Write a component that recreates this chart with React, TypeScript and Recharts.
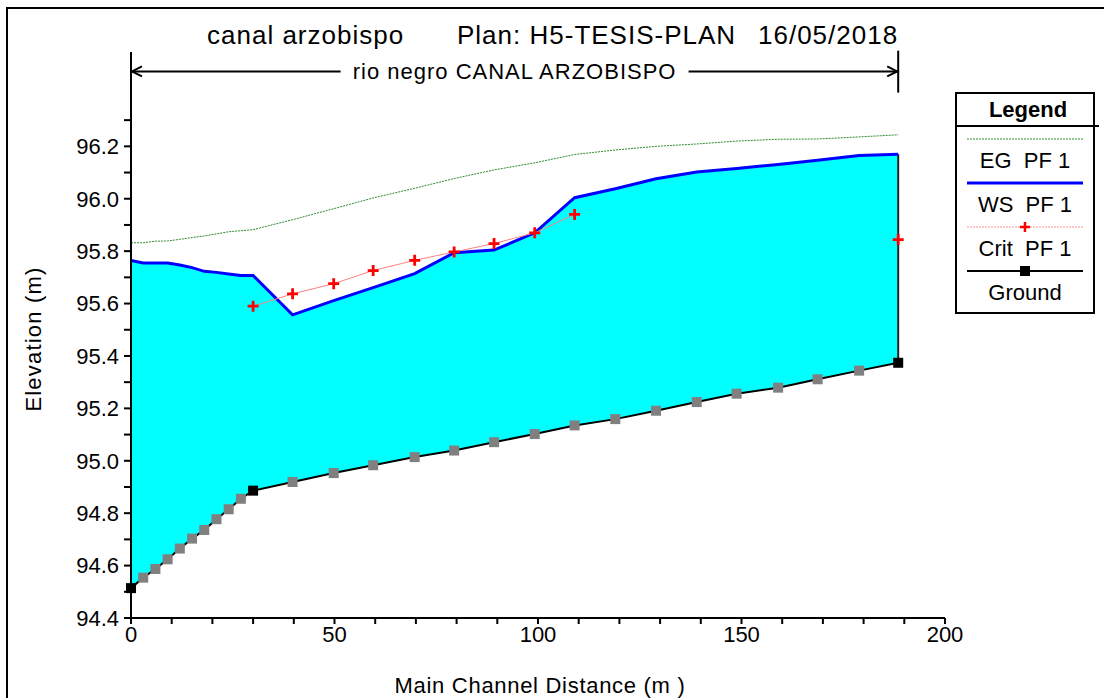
import React from 'react';
import { ComposedChart, Area, Line, XAxis, YAxis, ReferenceLine } from 'recharts';

// HEC-RAS style profile: canal arzobispo
const stations = [0, 3, 6, 9, 12, 15, 18, 21, 24, 27, 30, 39.7, 49.8, 59.5, 69.7, 79.4, 89.2, 99.2, 109, 119, 129, 139, 148.8, 159, 168.7, 178.9, 188.5];
const ground = [94.514, 94.554, 94.587, 94.624, 94.665, 94.703, 94.736, 94.777, 94.815, 94.855, 94.886, 94.919, 94.953, 94.983, 95.014, 95.039, 95.071, 95.102, 95.135, 95.159, 95.191, 95.224, 95.256, 95.279, 95.311, 95.344, 95.374];
const wsPF1 = [95.764, 95.755, 95.755, 95.755, 95.747, 95.737, 95.723, 95.719, 95.713, 95.707, 95.707, 95.557, 95.611, 95.661, 95.714, 95.794, 95.804, 95.870, 96.004, 96.038, 96.076, 96.102, 96.115, 96.131, 96.147, 96.165, 96.170];
const egPF1 = [95.832, 95.832, 95.838, 95.839, 95.845, 95.852, 95.858, 95.866, 95.874, 95.878, 95.882, 95.920, 95.962, 96.003, 96.040, 96.077, 96.110, 96.137, 96.169, 96.186, 96.200, 96.209, 96.220, 96.227, 96.228, 96.236, 96.244];
const critPF1 = [null, null, null, null, null, null, null, null, null, null, 95.590, 95.637, 95.676, 95.726, 95.765, 95.797, 95.829, 95.870, 95.940, null, null, null, null, null, null, null, 95.844];
// cross sections that are not interpolated (drawn with black markers)
const realSections = [0, 30, 188.5];

const xTicks = [0, 10, 20, 30, 40, 50, 60, 70, 80, 90, 100, 110, 120, 130, 140, 150, 160, 170, 180, 190, 200];
const yTicks = [94.4, 94.5, 94.6, 94.7, 94.8, 94.9, 95.0, 95.1, 95.2, 95.3, 95.4, 95.5, 95.6, 95.7, 95.8, 95.9, 96.0, 96.1, 96.2, 96.3];

const reachName = 'rio negro CANAL ARZOBISPO';
const reachStart = 0;
const reachEnd = 188.5;
const reachY = 96.486;

const FONT = '"Liberation Sans", Arial, sans-serif';

const rows = stations.map((x, i) => ({
  x,
  ground: ground[i],
  ws: wsPF1[i],
  eg: egPF1[i],
  crit: critPF1[i],
}));

const CritDot = (p: any) => {
  const { cx, cy, index } = p;
  if (cx == null || cy == null || p.value == null) return <g key={`c${index}`} />;
  return (
    <path key={`c${index}`} d={`M${cx - 5.5},${cy}H${cx + 5.5}M${cx},${cy - 5.5}V${cy + 5.5}`} stroke="#ff0000" strokeWidth={2.8} />
  );
};

const GroundDot = (p: any) => {
  const { cx, cy, index } = p;
  const real = realSections.includes(stations[index]);
  return <rect key={`g${index}`} x={cx - 5} y={cy - 5} width={10} height={10} fill={real ? '#000' : '#808080'} />;
};

const ReachShape = (p: any) => {
  const { x1, y1, x2 } = p;
  const mid = (x1 + x2) / 2;
  const gap = 174;
  return (
    <g>
      <line x1={x1} y1={y1} x2={mid - gap} y2={y1} stroke="#000" strokeWidth={2} />
      <line x1={mid + gap} y1={y1} x2={x2} y2={y1} stroke="#000" strokeWidth={2} />
      <path d={`M${x1 + 11},${y1 - 5}L${x1 + 1},${y1}L${x1 + 11},${y1 + 5}`} fill="none" stroke="#000" strokeWidth={2} />
      <path d={`M${x2 - 11},${y1 - 5}L${x2 - 1},${y1}L${x2 - 11},${y1 + 5}`} fill="none" stroke="#000" strokeWidth={2} />
      <text x={mid} y={y1 + 8} textAnchor="middle" fontFamily={FONT} fontSize={22} letterSpacing={1} fill="#000">{reachName}</text>
    </g>
  );
};

const legendItems = [
  { name: 'EG  PF 1', kind: 'eg' },
  { name: 'WS  PF 1', kind: 'ws' },
  { name: 'Crit  PF 1', kind: 'crit' },
  { name: 'Ground', kind: 'ground' },
];

const LegendSample = ({ kind }: { kind: string }) => (
  <svg width={116} height={12} style={{ display: 'block', margin: '0 auto' }}>
    {kind === 'eg' && <line x1={0} y1={6} x2={116} y2={6} stroke="#2e8b2e" strokeWidth={1} strokeDasharray="2 1" />}
    {kind === 'ws' && <line x1={0} y1={6} x2={116} y2={6} stroke="#0000ff" strokeWidth={3} />}
    {kind === 'crit' && (
      <g>
        <line x1={0} y1={6} x2={116} y2={6} stroke="#ff9090" strokeWidth={1} strokeDasharray="2 1" />
        <path d="M53,6H63M58,1V11" stroke="#ff0000" strokeWidth={2.5} />
      </g>
    )}
    {kind === 'ground' && (
      <g>
        <line x1={0} y1={6} x2={116} y2={6} stroke="#000" strokeWidth={2} />
        <rect x={53} y={1} width={10} height={10} fill="#000" />
      </g>
    )}
  </svg>
);

export default function App() {
  const last = stations.length - 1;
  return (
    <div style={{ position: 'absolute', left: 0, top: 0, width: 1104, height: 698, background: '#fff', overflow: 'hidden', fontFamily: FONT }}>
      <div style={{ position: 'absolute', left: 6, top: 7, right: -10, bottom: -10, borderTop: '2px solid #000', borderLeft: '2px solid #000' }} />

      <div style={{ position: 'absolute', top: 20, left: 0, width: 1104, height: 34, fontSize: 26, letterSpacing: 1, color: '#000', whiteSpace: 'pre' }}>
        <span style={{ position: 'absolute', left: 207 }}>canal arzobispo</span>
        <span style={{ position: 'absolute', left: 457 }}>Plan: H5-TESIS-PLAN</span>
        <span style={{ position: 'absolute', left: 758 }}>16/05/2018</span>
      </div>

      <div style={{ position: 'absolute', left: 0, top: 0 }}>
        <ComposedChart width={1104} height={698} data={rows} margin={{ top: 52, right: 159, bottom: 40, left: 71 }}>
          <XAxis
            dataKey="x"
            type="number"
            domain={[0, 200]}
            ticks={xTicks}
            interval={0}
            tickFormatter={(v: number) => (v % 50 === 0 ? String(v) : '')}
            tick={{ fontSize: 22, fill: '#000', fontFamily: FONT }}
            tickSize={6}
            tickLine={{ stroke: '#000', strokeWidth: 2 }}
            axisLine={{ stroke: '#000', strokeWidth: 2 }}
            height={40}
          />
          <YAxis
            type="number"
            domain={[94.4, 96.56]}
            allowDataOverflow
            ticks={yTicks}
            interval={0}
            tickFormatter={(v: number) => (Math.round(v * 10) % 2 === 0 ? v.toFixed(1) : '')}
            tick={{ fontSize: 22, fill: '#000', fontFamily: FONT }}
            tickSize={7}
            tickMargin={5}
            tickLine={{ stroke: '#000', strokeWidth: 2 }}
            axisLine={{ stroke: '#000', strokeWidth: 2 }}
            width={60}
          />
          <Area
            type="linear"
            dataKey={(d: any) => [d.ground, d.ws]}
            fill="#00ffff"
            fillOpacity={1}
            stroke="none"
            isAnimationActive={false}
          />
          <ReferenceLine
            segment={[{ x: stations[last], y: ground[last] }, { x: stations[last], y: wsPF1[last] }]}
            stroke="#222"
            strokeWidth={2}
            ifOverflow="visible"
          />
          <Line type="linear" dataKey="eg" stroke="#2e8b2e" strokeWidth={1} strokeDasharray="2 1" dot={false} isAnimationActive={false} />
          <Line type="linear" dataKey="ground" stroke="#000" strokeWidth={2} dot={GroundDot} isAnimationActive={false} />
          <Line type="linear" dataKey="ws" stroke="#0000ff" strokeWidth={3} dot={false} isAnimationActive={false} />
          <Line type="linear" dataKey="crit" stroke="#ff8080" strokeWidth={1} dot={CritDot} connectNulls={false} isAnimationActive={false} />
          <ReferenceLine
            segment={[{ x: reachStart, y: reachY }, { x: reachEnd, y: reachY }]}
            ifOverflow="visible"
            shape={ReachShape}
          />
          <ReferenceLine
            segment={[{ x: reachEnd, y: 96.405 }, { x: reachEnd, y: 96.565 }]}
            stroke="#000"
            strokeWidth={2}
            ifOverflow="visible"
          />
        </ComposedChart>
      </div>

      <div style={{ position: 'absolute', left: 34, top: 339, width: 0, height: 0 }}>
        <div style={{ position: 'absolute', left: -90, top: -13, width: 180, textAlign: 'center', fontSize: 22, letterSpacing: 1.2, transform: 'rotate(-90deg)', whiteSpace: 'nowrap' }}>
          Elevation (m)
        </div>
      </div>
      <div style={{ position: 'absolute', left: 320, top: 673, width: 440, textAlign: 'center', fontSize: 22, letterSpacing: 0.7, whiteSpace: 'pre' }}>
        Main Channel Distance (m )
      </div>

      <div style={{ position: 'absolute', left: 955, top: 92, width: 136, height: 218, border: '2px solid #000', background: '#fff' }}>
        <div style={{ height: 31, borderBottom: '2px solid #000', marginRight: -6, textAlign: 'center', fontWeight: 'bold', fontSize: 22, lineHeight: '31px' }}>
          <span style={{ display: 'inline-block', width: 136 }}>Legend</span>
        </div>
        <div style={{ paddingTop: 6 }}>
          {legendItems.map((it) => (
            <div key={it.kind} style={{ height: 44 }}>
              <LegendSample kind={it.kind} />
              <div style={{ textAlign: 'center', fontSize: 22, lineHeight: '32px', whiteSpace: 'pre' }}>{it.name}</div>
            </div>
          ))}
        </div>
      </div>
    </div>
  );
}
